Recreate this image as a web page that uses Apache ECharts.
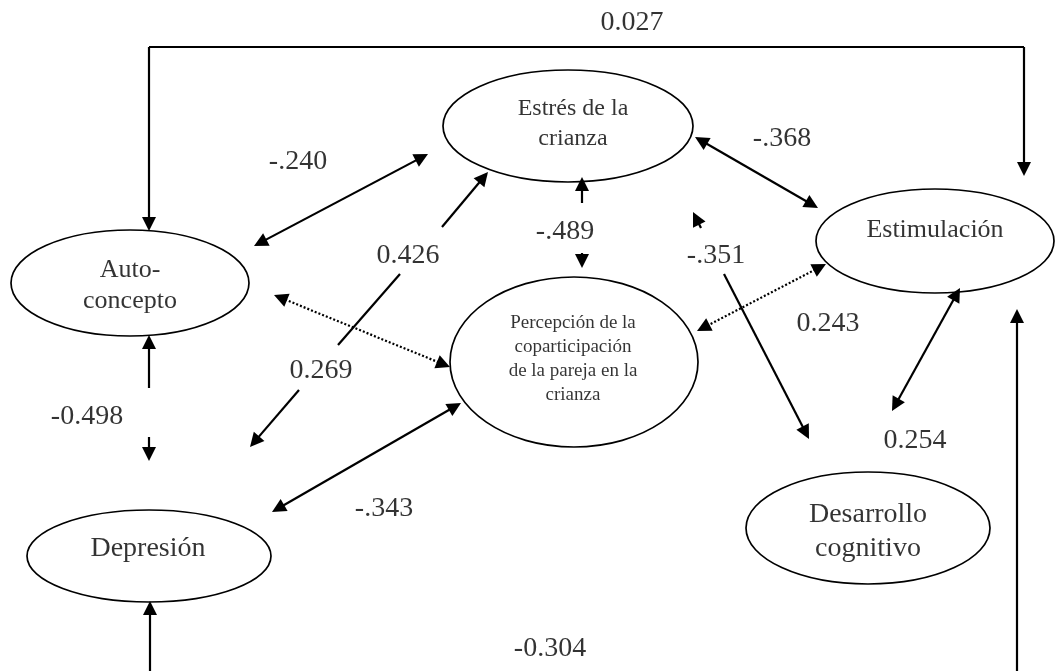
<!DOCTYPE html>
<html><head><meta charset="utf-8">
<script src="https://cdn.jsdelivr.net/npm/echarts@6/dist/echarts.min.js"></script>
<style>html,body{margin:0;padding:0;background:#fff}#c{width:1060px;height:671px}</style>
</head><body><div id="c"></div>
<script>
// ---- Data: variables of the path model ----
const nodeNames = ['Auto-\nconcepto', 'Estrés de la\ncrianza', 'Estimulación',
  'Percepción de la\ncoparticipación\nde la pareja en la\ncrianza', 'Depresión', 'Desarrollo\ncognitivo'];
// ---- Data: path coefficients ----
const coefLabels = ['0.027', '-.240', '0.426', '0.269', '-.343', '-0.498', '-.489', '-.368', '-.351', '0.243', '0.254', '-0.304'];

// ---- Layout (units of a hidden 1060 x 671 value axis) ----
const nodeCenter = [[130,283],[568,126],[935,241],[574,362],[149,556],[868,528]];
const nodeRadius = [[119,53],[125,56],[119,52],[124,85],[122,46],[122,56]];
const nodeTextPos = [[130,286],[573,124],[935,230],[573,359],[148,549],[868,532]];
const nodeFont = [26,24,26,19,28,28];
const nodeLineH = [31,30,30,24,30,34];
const coefPos = [[632,23],[298,162],[408,256],[321,371],[384,509],[87,417],[565,232],[782,139],[716,256],[828,324],[915,441],[550,649]];
// segments: x1, y1, x2, y2, head at start, head at end, dotted
const segments = [
  [149,47,1024,47,0,0,0],
  [149,47,149,231,0,1,0],
  [1024,47,1024,176,0,1,0],
  [428,154,254,246,1,1,0],
  [442,227,488,172,0,1,0],
  [400,274,338,345,0,0,0],
  [299,390,250,447,0,1,0],
  [274,295,450,367,1,1,1],
  [461,403,272,512,1,1,0],
  [149,388,149,335,0,1,0],
  [149,437,149,461,0,1,0],
  [150,671,150,601,0,1,0],
  [1017,671,1017,309,0,1,0],
  [582,203,582,177,0,1,0],
  [582,253,582,268,0,1,0],
  [695,137,818,208,1,1,0],
  [701,228,693,212,0,1,0],
  [724,274,809,439,0,1,0],
  [826,264,697,331,1,1,1],
  [960,288,892,411,1,1,0]
];

const FONT = "'Liberation Serif', 'Times New Roman', serif";
const HEAD_L = 14, HEAD_W = 7;

function head(tip, from) {
  const dx = tip[0] - from[0], dy = tip[1] - from[1];
  const len = Math.hypot(dx, dy) || 1;
  const ux = dx / len, uy = dy / len;
  const bx = tip[0] - ux * HEAD_L, by = tip[1] - uy * HEAD_L;
  return {
    type: 'polygon',
    shape: { points: [tip, [bx - uy * HEAD_W, by + ux * HEAD_W], [bx + uy * HEAD_W, by - ux * HEAD_W]] },
    style: { fill: '#000' }
  };
}

const chart = echarts.init(document.getElementById('c'), null, { renderer: 'canvas' });
chart.setOption({
  backgroundColor: '#fff',
  animation: false,
  grid: { left: 0, right: 0, top: 0, bottom: 0 },
  xAxis: { type: 'value', min: 0, max: 1060, show: false },
  yAxis: { type: 'value', min: 0, max: 671, inverse: true, show: false },
  series: [
    {
      type: 'custom',
      z: 2,
      data: nodeCenter.map(c => [c[0], c[1]]),
      renderItem: function (params, api) {
        const i = params.dataIndex;
        const c = api.coord(nodeCenter[i]);
        const s = api.size(nodeRadius[i]);
        return {
          type: 'ellipse',
          shape: { cx: c[0], cy: c[1], rx: s[0], ry: s[1] },
          style: { fill: '#fff', stroke: '#000', lineWidth: 1.7 }
        };
      }
    },
    {
      type: 'custom',
      z: 3,
      data: segments.map(s => [s[0], s[1]]),
      renderItem: function (params, api) {
        const s = segments[params.dataIndex];
        const p1 = api.coord([s[0], s[1]]);
        const p2 = api.coord([s[2], s[3]]);
        const dx = p2[0] - p1[0], dy = p2[1] - p1[1];
        const len = Math.hypot(dx, dy) || 1;
        const ux = dx / len, uy = dy / len;
        const a = s[4] ? [p1[0] + ux * (HEAD_L - 2), p1[1] + uy * (HEAD_L - 2)] : p1;
        const b = s[5] ? [p2[0] - ux * (HEAD_L - 2), p2[1] - uy * (HEAD_L - 2)] : p2;
        const children = [{
          type: 'line',
          shape: { x1: a[0], y1: a[1], x2: b[0], y2: b[1] },
          style: { stroke: '#000', lineWidth: 2.2, lineDash: s[6] ? [2, 2] : null }
        }];
        if (s[4]) children.push(head(p1, p2));
        if (s[5]) children.push(head(p2, p1));
        return { type: 'group', children: children };
      }
    },
    {
      type: 'scatter',
      z: 4,
      symbolSize: 0,
      silent: true,
      data: nodeNames.map((n, i) => ({
        value: nodeTextPos[i],
        label: {
          show: true, position: 'inside', formatter: n,
          fontFamily: FONT, fontSize: nodeFont[i], lineHeight: nodeLineH[i],
          color: '#000', align: 'center', verticalAlign: 'middle'
        }
      }))
    },
    {
      type: 'scatter',
      z: 4,
      symbolSize: 0,
      silent: true,
      data: coefLabels.map((t, i) => ({
        value: coefPos[i],
        label: {
          show: true, position: 'inside', formatter: t,
          fontFamily: FONT, fontSize: 28, lineHeight: 28,
          color: '#000', align: 'center', verticalAlign: 'middle'
        }
      }))
    }
  ]
});
</script>
</body></html>
